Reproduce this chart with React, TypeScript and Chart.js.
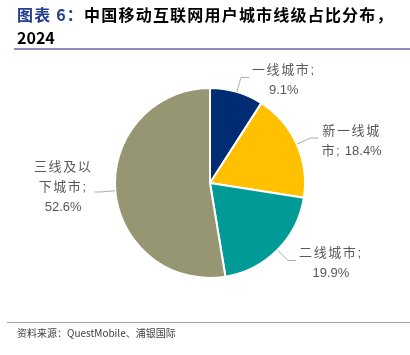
import React, { useEffect, useRef } from 'react';
import { Chart, registerables } from 'chart.js';

Chart.register(...registerables);

const categories = ['一线城市', '新一线城市', '二线城市', '三线及以下城市'];
const shares = [9.1, 18.4, 19.9, 52.6];
const labelLines = [
  ['一线城市;', '9.1%'],
  ['新一线城', '市; 18.4%'],
  ['二线城市;', '19.9%'],
  ['三线及以', '下城市;', '52.6%'],
];
const colors = ['#002C73', '#FFC000', '#009B97', '#969672'];

const LABEL_FONT = '13px "Liberation Sans", "Noto Sans CJK SC", sans-serif';
const CJK_GAP = 1.6;

function isCJK(ch: string) {
  return /[\u3000-\u9fff\uff00-\uffef]/.test(ch) || ch === ';';
}

function lineWidth(ctx: CanvasRenderingContext2D, text: string) {
  let w = 0;
  for (const ch of text) w += ctx.measureText(ch).width + (isCJK(ch) ? CJK_GAP : 0);
  return w;
}

function drawLine(ctx: CanvasRenderingContext2D, text: string, left: number, y: number) {
  let x = left;
  for (const ch of text) {
    ctx.fillText(ch, x, y);
    x += ctx.measureText(ch).width + (isCJK(ch) ? CJK_GAP : 0);
  }
}

const leaderPlugin = {
  id: 'leaderLabels',
  afterDatasetsDraw(chart: any) {
    const ctx = chart.ctx;
    const meta = chart.getDatasetMeta(0);
    meta.data.forEach((arc: any, i: number) => {
      const { x, y, startAngle, endAngle, outerRadius } = arc.getProps(
        ['x', 'y', 'startAngle', 'endAngle', 'outerRadius'],
        true
      );
      const mid = (startAngle + endAngle) / 2;
      const c = Math.cos(mid);
      const s = Math.sin(mid);
      const x0 = x + c * outerRadius;
      const y0 = y + s * outerRadius;
      const x1 = x + c * (outerRadius + 15);
      const y1 = y + s * (outerRadius + 15);
      const right = c >= 0;
      const x2 = x1 + (right ? 8 : -6);
      ctx.save();
      ctx.strokeStyle = '#ADADAD';
      ctx.lineWidth = 1;
      ctx.beginPath();
      ctx.moveTo(x0, y0);
      ctx.lineTo(x1, y1);
      ctx.lineTo(x2, y1);
      ctx.stroke();

      const lines = labelLines[i];
      ctx.font = LABEL_FONT;
      ctx.fillStyle = '#595959';
      ctx.textAlign = 'left';
      ctx.textBaseline = 'middle';
      const widths = lines.map((l) => lineWidth(ctx, l));
      const w = Math.max(...widths);
      const cx = right ? x2 + 3 + w / 2 : x2 - 2 - w / 2;
      const lh = 20;
      const cy = y1 + (right ? 3 : -5);
      const top = cy - ((lines.length - 1) * lh) / 2;
      lines.forEach((l, k) => drawLine(ctx, l, cx - widths[k] / 2, top + k * lh));
      ctx.restore();
    });
  },
};

export default function App() {
  const ref = useRef<HTMLCanvasElement | null>(null);

  useEffect(() => {
    if (!ref.current) return;
    const chart = new Chart(ref.current, {
      type: 'pie',
      data: {
        labels: categories,
        datasets: [
          {
            data: shares,
            backgroundColor: colors,
            borderColor: '#FFFFFF',
            borderWidth: 2,
          },
        ],
      },
      options: {
        responsive: false,
        animation: false,
        layout: { padding: { top: 87, bottom: 76, left: 114, right: 104 } },
        plugins: {
          legend: { display: false },
          tooltip: { enabled: false },
          title: { display: false },
        },
      },
      plugins: [leaderPlugin],
    });
    return () => chart.destroy();
  }, []);

  const titleFont = '"Noto Sans CJK SC", "Liberation Sans", sans-serif';

  return (
    <div
      style={{
        position: 'fixed',
        left: 0,
        top: 0,
        width: 410,
        height: 355,
        background: '#FFFFFF',
        overflow: 'hidden',
      }}
    >
      <canvas
        ref={ref}
        width={410}
        height={355}
        style={{ position: 'absolute', left: 0, top: 0, width: 410, height: 355 }}
      />
      <div
        style={{
          position: 'absolute',
          left: 17,
          top: 3,
          fontFamily: titleFont,
          fontWeight: 700,
          fontSize: 16,
          lineHeight: '23px',
          letterSpacing: 1.2,
          color: '#000000',
          whiteSpace: 'nowrap',
        }}
      >
        <div>
          <span style={{ color: '#223D8F' }}>图表 6：</span>
          中国移动互联网用户城市线级占比分布，
        </div>
        <div style={{ letterSpacing: 0 }}>2024</div>
      </div>
      <div
        style={{
          position: 'absolute',
          left: 14,
          top: 48,
          width: 396,
          height: 2,
          background: '#8C8CBE',
        }}
      />
      <div
        style={{
          position: 'absolute',
          left: 7,
          top: 322,
          width: 403,
          height: 1,
          background: '#A0A0C8',
        }}
      />
      <div
        style={{
          position: 'absolute',
          left: 17,
          top: 326,
          fontFamily: titleFont,
          fontSize: 10,
          lineHeight: '14px',
          color: '#404040',
          whiteSpace: 'nowrap',
        }}
      >
        资料来源：QuestMobile、浦银国际
      </div>
    </div>
  );
}
